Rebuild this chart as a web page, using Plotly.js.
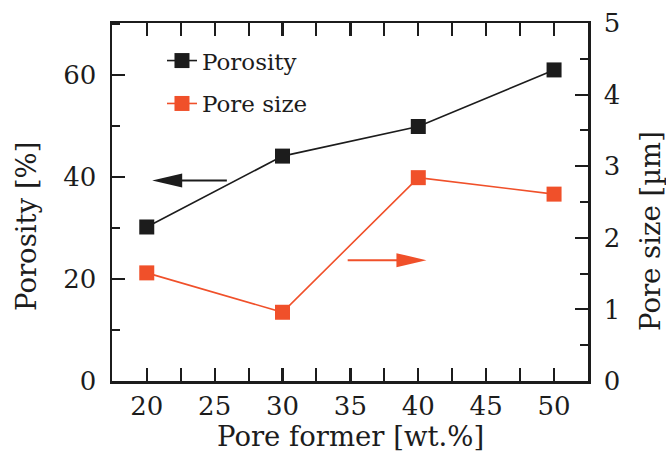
<!DOCTYPE html>
<html><head><meta charset="utf-8">
<script src="https://cdn.plot.ly/plotly-3.0.1.min.js"></script>
<style>html,body{margin:0;padding:0;background:#fff}#chart{width:666px;height:453px}</style>
</head><body><div id="chart"></div>
<script>
const poreFormer = [20, 30, 40, 50];
const porosity = [30.2, 44.1, 49.9, 61.0];
const poreSize = [1.51, 0.96, 2.84, 2.61];
const xTicks = [20, 25, 30, 35, 40, 45, 50];
const leftTicks = [0, 20, 40, 60];
const rightTicks = [0, 1, 2, 3, 4, 5];
const xTitle = 'Pore former [wt.%]';
const yTitle = 'Porosity [%]';
const y2Title = 'Pore size [µm]';
// arrows: [tailX, tipX, y (left-axis units)]
const arrowPorosity = [25.9, 20.4, 39.3];
const arrowPoreSize = [34.8, 40.6, 23.7];

const black = '#1c1c1c', orange = '#f0502a';
const font = 'DejaVu Serif';

const traces = [
  {x: poreFormer, y: porosity, name: 'Porosity', legendgroup: 'a', mode: 'lines+markers',
   line: {color: black, width: 1.6}, marker: {symbol: 'square', size: 15, color: black}},
  {x: poreFormer, y: poreSize, name: 'Pore size', legendgroup: 'b', yaxis: 'y2', mode: 'lines+markers',
   line: {color: orange, width: 1.6}, marker: {symbol: 'square', size: 15, color: orange}}
];

function arrowShapes(a, color) {
  const dir = a[1] < a[0] ? 1 : -1;
  return [
    {type: 'line', xref: 'x', yref: 'y', x0: a[0], x1: a[1] + dir * 1.2, y0: a[2], y1: a[2],
     line: {color: color, width: 2}},
    {type: 'path', xref: 'x', yref: 'y', xsizemode: 'pixel', ysizemode: 'pixel',
     xanchor: a[1], yanchor: a[2],
     path: `M0,0 L${dir*30},7 L${dir*30},-7 Z`, fillcolor: color, line: {width: 0}}
  ];
}

const axisCommon = {showgrid: false, zeroline: false, showline: true, linecolor: black, linewidth: 2.5,
  ticks: 'inside', ticklen: 13, tickwidth: 2.2, tickcolor: black,
  tickfont: {family: font, size: 26, color: black}};

const titleFont = {family: font, size: 27.5, color: black};

const layout = {
  width: 666, height: 453,
  margin: {l: 112, r: 78, t: 23, b: 72},
  paper_bgcolor: '#fff', plot_bgcolor: '#fff',
  font: {family: font, color: black},
  showlegend: true,
  legend: {x: 0.105, y: 0.955, xanchor: 'left', yanchor: 'top', bgcolor: 'rgba(0,0,0,0)',
    font: {family: font, size: 23, color: black}, tracegroupgap: 10, itemwidth: 30},
  xaxis: Object.assign({}, axisCommon, {range: [17.44, 52.5], tickvals: xTicks, mirror: 'allticks',
    minor: {ticks: 'inside', ticklen: 7, tickwidth: 2, tickcolor: black, dtick: 2.5, tick0: 20},
    ticklabelstandoff: 0}),
  yaxis: Object.assign({}, axisCommon, {range: [0, 70.2], tickvals: leftTicks, mirror: false,
    minor: {ticks: 'inside', ticklen: 8, tickwidth: 2, tickcolor: black, dtick: 10, tick0: 0},
    ticklabelstandoff: 8}),
  yaxis2: Object.assign({}, axisCommon, {range: [0, 5], tickvals: rightTicks, overlaying: 'y', side: 'right',
    minor: {ticks: 'inside', ticklen: 8, tickwidth: 2, tickcolor: black, dtick: 0.5, tick0: 0},
    ticklabelstandoff: 8}),
  annotations: [
    {text: xTitle, xref: 'paper', yref: 'paper', x: 0.5, y: 0, xanchor: 'center', yanchor: 'top',
     yshift: -37, showarrow: false, font: titleFont},
    {text: yTitle, xref: 'paper', yref: 'paper', x: 0, y: 0.5, xanchor: 'center', yanchor: 'middle',
     xshift: -86, yshift: -25, textangle: -90, showarrow: false, font: titleFont},
    {text: y2Title, xref: 'paper', yref: 'paper', x: 1, y: 0.5, xanchor: 'center', yanchor: 'middle',
     xshift: 62, yshift: -29, textangle: -90, showarrow: false, font: titleFont}
  ],
  shapes: [].concat(arrowShapes(arrowPorosity, black), arrowShapes(arrowPoreSize, orange))
};

Plotly.newPlot('chart', traces, layout, {displayModeBar: false, staticPlot: true});
</script></body></html>
